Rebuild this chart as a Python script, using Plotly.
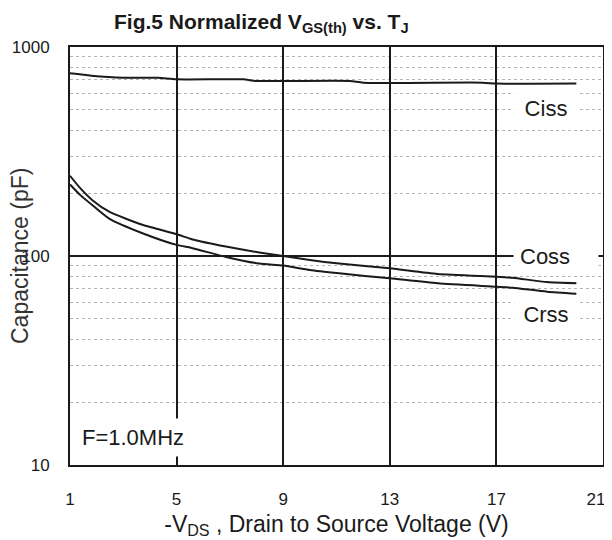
import math
import plotly.graph_objects as go

# ---- data ----
ciss_x = [1, 1.8, 3, 4.3, 5, 7.5, 8, 11.5, 12, 16.5, 17, 20]
ciss_y = [748, 729, 713, 713, 700, 700, 688, 688, 675, 675, 668, 668]

coss_x = [1, 1.4, 1.84, 2.47, 3.72, 5, 5.6, 6.85, 8.1, 9, 10, 11.1, 13, 14.8, 17, 17.6, 18.9, 20]
coss_y = [242, 210, 185, 163, 141, 127, 120, 111, 104, 100, 95.7, 92, 87.3, 82, 79.6, 78.7, 75, 74]

crss_x = [1, 1.4, 1.84, 2.47, 3.72, 5, 5.6, 6.85, 8.1, 9, 10, 11.1, 13, 14.8, 17, 17.6, 18.9, 20]
crss_y = [220, 195, 175, 151, 128.5, 113, 109, 99, 92, 90, 85.7, 82.6, 78.2, 74, 71.3, 70.5, 67.5, 66]

x_ticks = [1, 5, 9, 13, 17, 21]
x_tick_text = ["1", "5", "9", "13", "17", "21"]
y_ticks = [10, 100, 1000]

labels = ["Ciss", "Coss", "Crss"]
label_x = [18.85, 19.25, 18.86]
label_y = [510, 99, 52.7]
label_w = [50, 72, 50]
label_align = ["center", "left", "center"]

note_text = "F=1.0MHz"
note_x = 3.36
note_y = 13.5

FONT = "Liberation Sans, Arial, sans-serif"
INK = "#1a1a1a"

fig = go.Figure()
for xs, ys in [(ciss_x, ciss_y), (coss_x, coss_y), (crss_x, crss_y)]:
    fig.add_trace(go.Scatter(x=xs, y=ys, mode="lines",
                             line=dict(color=INK, width=2, shape="spline", smoothing=0.6),
                             showlegend=False, hoverinfo="skip"))

for t, lx, ly, w, al in zip(labels, label_x, label_y, label_w, label_align):
    fig.add_annotation(x=lx, y=math.log10(ly), xref="x", yref="y", text=t, showarrow=False,
                       font=dict(family=FONT, size=22, color=INK), align=al,
                       bgcolor="white", borderpad=6, width=w, height=21)

fig.add_annotation(x=note_x, y=math.log10(note_y), xref="x", yref="y", text=note_text,
                   showarrow=False, font=dict(family=FONT, size=22, color=INK),
                   bgcolor="white", borderpad=7, width=106, height=23)

fig.add_annotation(x=0.36, y=1.0, xref="paper", yref="paper", yanchor="middle", yshift=24,
                   text="<b>Fig.5 Normalized V<sub>GS(th)</sub> vs. T<sub>J</sub></b>",
                   showarrow=False, font=dict(family=FONT, size=21, color=INK))

fig.add_annotation(x=0, y=0.5, xref="paper", yref="paper", xanchor="center", xshift=-50,
                   text="Capacitance (pF)", textangle=-90, showarrow=False,
                   font=dict(family=FONT, size=23, color="#333333"))

# last label padded so it is not cut at the page edge
tick_text = x_tick_text[:-1] + [x_tick_text[-1] + "\u00a0\u00a0\u00a0"]

fig.update_xaxes(range=[1, 21], tickvals=x_ticks, ticktext=tick_text,
                 showgrid=True, gridcolor=INK, gridwidth=1.5, automargin=False,
                 ticklabeloverflow="allow",
                 showline=True, linecolor=INK, linewidth=2, mirror=True,
                 zeroline=False, ticks="", ticklabelstandoff=18,
                 tickfont=dict(family=FONT, size=17, color=INK),
                 title=dict(text="-V<sub>DS</sub> , Drain to Source Voltage (V)",
                            font=dict(family=FONT, size=23, color=INK), standoff=7))

fig.update_yaxes(type="log", range=[1, 3], tickvals=y_ticks, ticktext=[str(v) for v in y_ticks],
                 showgrid=True, gridcolor=INK, gridwidth=1.5, automargin=False,
                 ticklabeloverflow="allow",
                 minor=dict(showgrid=True, dtick="D1", gridcolor="#b5b5b5", griddash="dot", gridwidth=1),
                 showline=True, linecolor=INK, linewidth=2, mirror=True,
                 zeroline=False, ticks="", ticklabelstandoff=15,
                 tickfont=dict(family=FONT, size=17, color=INK))

fig.update_layout(width=604, height=532, paper_bgcolor="white", plot_bgcolor="white",
                  margin=dict(l=62, r=9, t=39, b=75), font=dict(family=FONT))

fig.write_html("out.html")
